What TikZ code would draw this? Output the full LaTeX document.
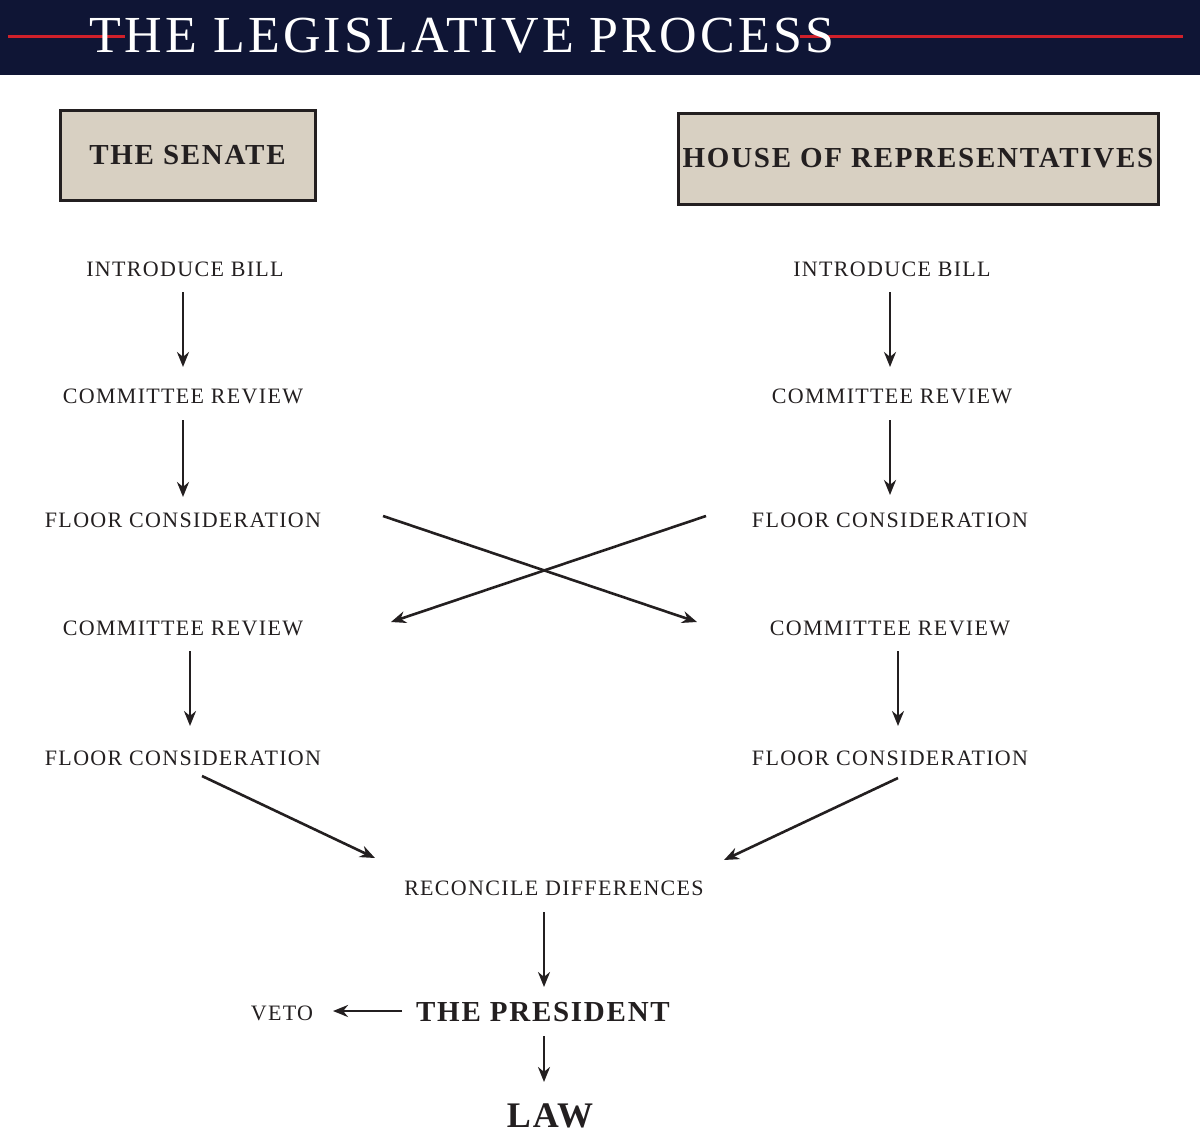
\documentclass[tikz,border=0pt]{standalone}
\usepackage{fontspec}
\setmainfont{Liberation Serif}
\newfontfamily\tr{Liberation Serif}[LetterSpace=6]
\usetikzlibrary{arrows.meta}
\definecolor{navy}{HTML}{0F1535}
\definecolor{hred}{HTML}{D0202A}
\definecolor{boxfill}{HTML}{D8D0C2}
\definecolor{ink}{HTML}{231F20}
\begin{document}
\begin{tikzpicture}[x=1pt,y=-1pt,
  lab/.style={text=ink,font=\tr\fontsize{22}{24}\selectfont,inner sep=0pt},
  big/.style={text=ink,font=\tr\bfseries\fontsize{29}{32}\selectfont,inner sep=0pt},
  head/.style={draw=ink,line width=3pt,fill=boxfill,text=ink,font=\tr\bfseries\fontsize{29}{32}\selectfont},
  arr/.style={draw=ink,line width=2.6pt,-{Stealth[length=15pt,width=12pt]}}]
\useasboundingbox (0,0) rectangle (1200,1138);
\fill[navy] (0,0) rectangle (1200,75);
\coordinate (r1a) at (8,36); \coordinate (r1b) at (125,36);
\coordinate (r2a) at (800,36); \coordinate (r2b) at (1183,36);
\draw[hred,line width=3pt] (r1a) -- (r1b) (r2a) -- (r2b);
\node[text=white,font=\tr\fontsize{52}{56}\selectfont,inner sep=0pt] (title) at (462,36) {THE LEGISLATIVE PROCESS};
\node[head,minimum width=255pt,minimum height=90pt] (senate) at (187.5,155) {THE SENATE};
\node[head,minimum width=480pt,minimum height=91pt] (house) at (918,158.5) {HOUSE OF REPRESENTATIVES};
\node[lab] (li) at (185,269) {INTRODUCE BILL};
\node[lab] (ri) at (892,269) {INTRODUCE BILL};
\node[lab] (lc1) at (183,396) {COMMITTEE REVIEW};
\node[lab] (rc1) at (892,396) {COMMITTEE REVIEW};
\node[lab] (lf1) at (183,520) {FLOOR CONSIDERATION};
\node[lab] (rf1) at (890,520) {FLOOR CONSIDERATION};
\node[lab] (lc2) at (183,628) {COMMITTEE REVIEW};
\node[lab] (rc2) at (890,628) {COMMITTEE REVIEW};
\node[lab] (lf2) at (183,758) {FLOOR CONSIDERATION};
\node[lab] (rf2) at (890,758) {FLOOR CONSIDERATION};
\node[lab] (rec) at (554,888) {RECONCILE DIFFERENCES};
\node[big] (pres) at (543,1012) {THE PRESIDENT};
\node[lab] (veto) at (282,1013) {VETO};
\node[big,font=\tr\bfseries\fontsize{36}{40}\selectfont] (law) at (550,1116) {LAW};
\coordinate (a1s) at (183,292); \coordinate (a1e) at (183,367);
\coordinate (a2s) at (183,420); \coordinate (a2e) at (183,497);
\coordinate (a3s) at (890,292); \coordinate (a3e) at (890,367);
\coordinate (a4s) at (890,420); \coordinate (a4e) at (890,495);
\coordinate (x1s) at (383,516); \coordinate (x1e) at (697,622);
\coordinate (x2s) at (706,516); \coordinate (x2e) at (391,622);
\coordinate (a5s) at (190,651); \coordinate (a5e) at (190,726);
\coordinate (a6s) at (898,651); \coordinate (a6e) at (898,726);
\coordinate (d1s) at (202,776); \coordinate (d1e) at (375,858);
\coordinate (d2s) at (898,778); \coordinate (d2e) at (724,860);
\coordinate (a7s) at (544,912); \coordinate (a7e) at (544,987);
\coordinate (vs) at (402,1011); \coordinate (ve) at (333,1011);
\coordinate (a8s) at (544,1036); \coordinate (a8e) at (544,1082);
\foreach \s/\e in {a1s/a1e,a2s/a2e,a3s/a3e,a4s/a4e,x1s/x1e,x2s/x2e,a5s/a5e,a6s/a6e,d1s/d1e,d2s/d2e,a7s/a7e,vs/ve,a8s/a8e}
  \draw[arr] (\s) -- (\e);
\end{tikzpicture}
\end{document}
